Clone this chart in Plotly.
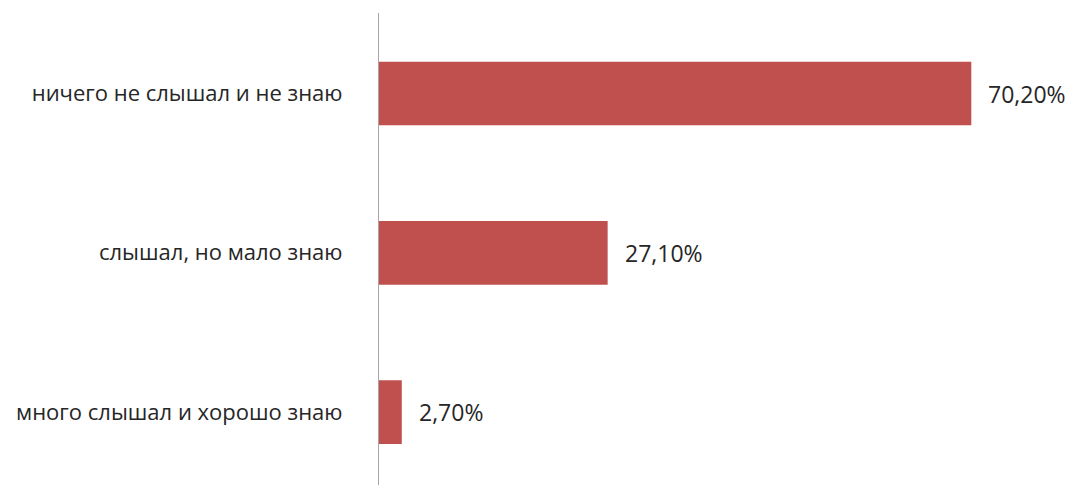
import plotly.graph_objects as go

categories = ["ничего не слышал и не знаю", "слышал, но мало знаю", "много слышал и хорошо знаю"]
values = [70.2, 27.1, 2.7]
labels = ["70,20%", "27,10%", "2,70%"]

bar_color = "#C0504D"
font_family = "Open Sans, Noto Sans, sans-serif"

fig = go.Figure()
fig.add_trace(go.Bar(
    y=categories, x=values, orientation="h",
    marker=dict(color=bar_color, line=dict(width=0)),
    width=0.4,
))
for c, v, t in zip(categories, values, labels):
    fig.add_annotation(x=v, y=c, text=t, showarrow=False, xanchor="left",
                       xshift=15, font=dict(size=23, color="#262626", family=font_family))

fig.update_layout(
    width=1072, height=485,
    margin=dict(l=379, r=18.4, t=13, b=0),
    paper_bgcolor="white", plot_bgcolor="white",
    showlegend=False,
    font=dict(family=font_family, size=22, color="#262626"),
    xaxis=dict(range=[0, 80], showgrid=False, showticklabels=False, zeroline=False,
               showline=False, ticks=""),
    yaxis=dict(categoryorder="array", categoryarray=categories,
               range=[2.458, -0.5055], showgrid=False, showline=True,
               linecolor="#A6A6A6", linewidth=1, ticks="", ticklabelstandoff=31),
)
fig.write_html("out.html", config={"displayModeBar": False},
               post_script="document.body.style.margin='0';document.body.style.overflow='hidden';")
